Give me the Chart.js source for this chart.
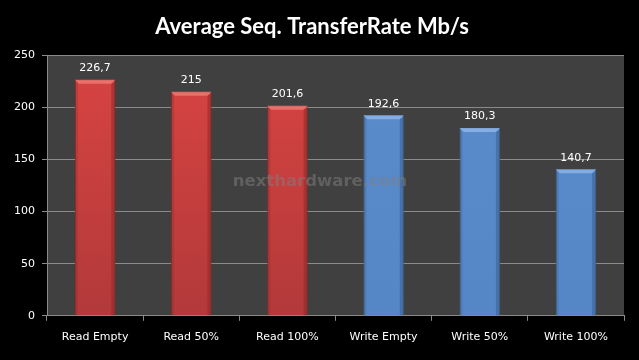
<!DOCTYPE html>
<html>
<head>
<meta charset="utf-8">
<script src="https://cdn.jsdelivr.net/npm/chart.js@4/dist/chart.umd.min.js"></script>
<style>
html,body{margin:0;padding:0;background:#000;}
#wrap{width:639px;height:360px;position:relative;}
</style>
</head>
<body>
<div id="wrap"><canvas id="c" width="639" height="360"></canvas></div>
<script>
const categories = ["Read Empty","Read 50%","Read 100%","Write Empty","Write 50%","Write 100%"];
const values = [226.7, 215, 201.6, 192.6, 180.3, 140.7];
const valueLabels = ["226,7","215","201,6","192,6","180,3","140,7"];
const yTicks = [0, 50, 100, 150, 200, 250];
const titleText = "Average Seq. TransferRate Mb/s";
const watermark = "nexthardware.com";

const barColors = ["#d84442","#d84442","#d84442","#5a8bcb","#5a8bcb","#5a8bcb"];
const barBottom = ["#b3393a","#b3393a","#b3393a","#5587c6","#5587c6","#5587c6"];
const barDark = ["#8e2a28","#8e2a28","#8e2a28","#3b5f8f","#3b5f8f","#3b5f8f"];
const barLight = ["#f07a76","#f07a76","#f07a76","#8fb7ea","#8fb7ea","#8fb7ea"];

const decor = {
  id: 'decor',
  afterDatasetsDraw(chart) {
    const ctx = chart.ctx;
    const meta = chart.getDatasetMeta(0);
    ctx.save();
    meta.data.forEach((bar, i) => {
      const p = bar.getProps(['x','y','base','width'], true);
      const l = p.x - p.width/2, r = p.x + p.width/2, t = p.y, b = p.base;
      ctx.fillStyle = barDark[i];
      ctx.globalAlpha = 0.55;
      ctx.fillRect(r - 4, t + 3, 4, b - t - 3);
      ctx.globalAlpha = 0.3;
      ctx.fillRect(l, t + 3, 3, b - t - 3);
      ctx.globalAlpha = 0.8;
      ctx.fillStyle = barLight[i];
      ctx.beginPath();
      ctx.moveTo(l, t); ctx.lineTo(r, t); ctx.lineTo(r - 4, t + 4); ctx.lineTo(l + 4, t + 4); ctx.closePath();
      ctx.fill();
      ctx.globalAlpha = 1;
      ctx.fillStyle = '#ffffff';
      ctx.font = '11px "DejaVu Sans"';
      ctx.textAlign = 'center';
      ctx.textBaseline = 'bottom';
      ctx.fillText(valueLabels[i], p.x, t - 6);
    });
    ctx.font = 'bold 16.5px "DejaVu Sans"';
    ctx.fillStyle = 'rgba(128,128,128,0.5)';
    ctx.textAlign = 'center';
    ctx.textBaseline = 'middle';
    ctx.fillText(watermark, 320, 182);
    ctx.restore();
  }
};

new Chart(document.getElementById('c'), {
  type: 'bar',
  data: {
    labels: categories,
    datasets: [{
      data: values,
      backgroundColor: (c) => {
        const i = c.dataIndex;
        const area = c.chart.chartArea;
        if (!area) return barColors[i];
        const g = c.chart.ctx.createLinearGradient(0, area.top, 0, area.bottom);
        g.addColorStop(0, barColors[i]);
        g.addColorStop(1, barBottom[i]);
        return g;
      },
      borderColor: barDark,
      borderWidth: 1,
      barPercentage: 0.42,
      categoryPercentage: 1
    }]
  },
  options: {
    responsive: false,
    animation: false,
    devicePixelRatio: 1,
    layout: { padding: { left: 0, right: 15, top: 0, bottom: 6 } },
    plugins: {
      legend: { display: false },
      tooltip: { enabled: false },
      title: {
        display: true,
        text: titleText,
        color: '#ffffff',
        font: { family: 'Lato', weight: 'bold', size: 22 },
        padding: { top: 14, bottom: 15 }
      }
    },
    scales: {
      x: {
        grid: { drawOnChartArea: false, drawTicks: true, tickLength: 5, color: '#8a8a8a' },
        border: { color: '#8a8a8a', width: 1 },
        ticks: { color: '#ffffff', font: { family: 'DejaVu Sans', size: 11 }, padding: 10 }
      },
      y: {
        min: 0, max: 250,
        afterBuildTicks: (s) => { s.ticks = yTicks.map(v => ({ value: v })); },
        afterFit: (s) => { s.width = 47; },
        grid: { color: '#8a8a8a', tickLength: 5 },
        border: { color: '#8a8a8a' },
        ticks: { color: '#ffffff', font: { family: 'DejaVu Sans', size: 11 }, padding: 7 }
      }
    }
  },
  plugins: [decor, {
    id: 'bg',
    beforeDraw(chart) {
      const ctx = chart.ctx, a = chart.chartArea;
      ctx.save();
      ctx.fillStyle = '#000';
      ctx.fillRect(0, 0, chart.width, chart.height);
      ctx.fillStyle = '#404040';
      ctx.fillRect(a.left, a.top, a.right - a.left, a.bottom - a.top);
      ctx.restore();
    }
  }]
});
</script>
</body>
</html>
